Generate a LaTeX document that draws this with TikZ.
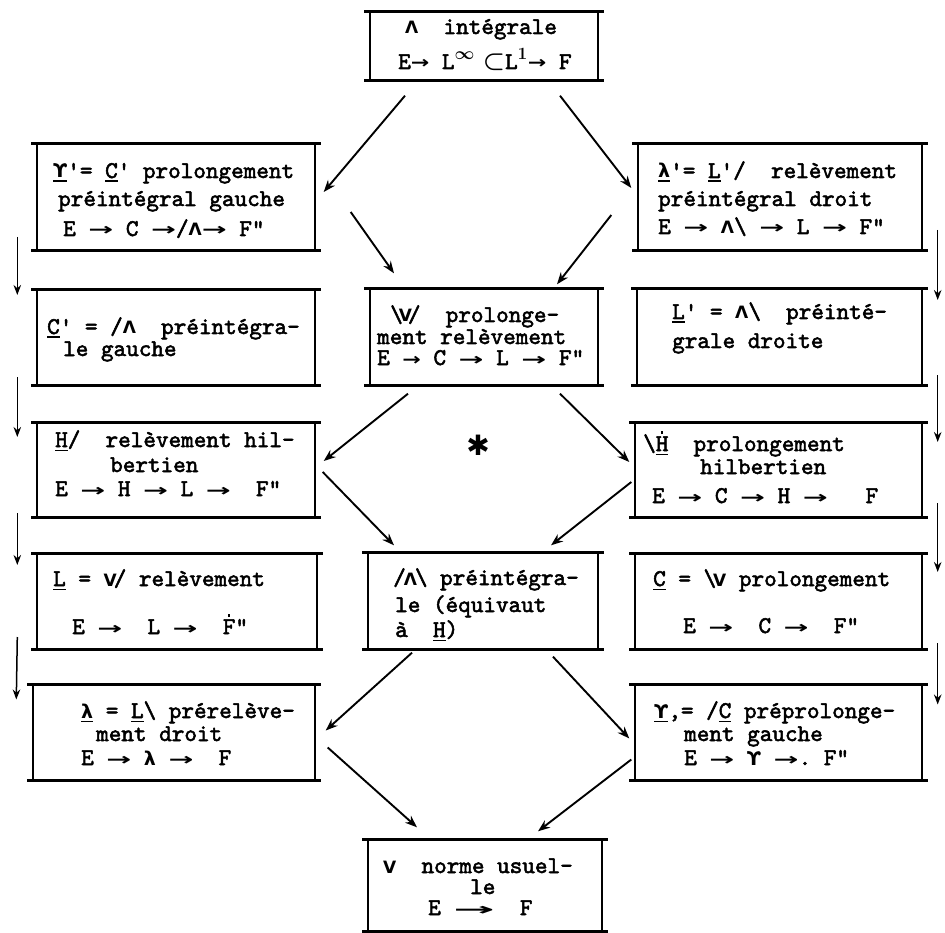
\documentclass[tikz,border=0pt]{standalone}
\usepackage{fontspec}
\usepackage{graphicx}
\newfontfamily\sym{DejaVu Sans}
\newfontfamily\tw{lmmono10-regular}[Extension=.otf, FakeBold=2.2]
\usetikzlibrary{arrows.meta}
\newcommand\AND{{\sym\bfseries\fontsize{17}{17}\selectfont Λ}}
\newcommand\OR{{\sym\bfseries\fontsize{17}{17}\selectfont V}}
\newcommand\UPS{{\sym\bfseries\fontsize{19}{19}\selectfont ϒ}}
\newcommand\LAM{{\sym\bfseries\fontsize{19}{19}\selectfont λ}}
\newcommand\arr{{\sym\bfseries\fontsize{17}{17}\selectfont\scalebox{1.75}[1]{→}}}
\newcommand\sarr{{\sym\bfseries\fontsize{17}{17}\selectfont\scalebox{1.3}[1]{→}}}
\newcommand\larr{{\sym\bfseries\fontsize{17}{17}\selectfont\scalebox{2.9}[1]{→}}}
\newcommand\bsl{\textbackslash}
\newsavebox\ulbox
\newsavebox\dtbox
\newcommand\ulx[1]{\sbox\ulbox{#1}\rlap{\rule[-4pt]{\wd\ulbox}{1.5pt}}\usebox\ulbox}
\newcommand\dotted[1]{\sbox\dtbox{#1}\rlap{\makebox[\wd\dtbox]{\rule[17pt]{2.6pt}{2.6pt}}}\usebox\dtbox}
\tikzset{
  box/.style={draw, line width=1.4pt, inner sep=0pt},
  hline/.style={line width=2.8pt},
  txt/.style={anchor=base west, inner sep=0pt, font=\tw\fontsize{24}{26}\selectfont},
  conn/.style={-{Stealth[length=12pt,width=9pt]}, line width=1.9pt},
  side/.style={-{Stealth[length=10pt,width=7.5pt]}, line width=1.5pt},
}
\begin{document}
\begin{tikzpicture}[x=1pt,y=-1pt]
\fill[white] (0,0) rectangle (945,933);
\useasboundingbox (0,0) rectangle (945,933);
% boxes
\node[box, minimum width=228pt, minimum height=68pt] (top) at (484,46) {};
\node[box, minimum width=278pt, minimum height=106pt] (r1l) at (176,197) {};
\node[box, minimum width=284pt, minimum height=106pt] (r1r) at (780,197) {};
\node[box, minimum width=278pt, minimum height=95pt] (r2l) at (176,337.5) {};
\node[box, minimum width=228pt, minimum height=96pt] (r2c) at (484,337) {};
\node[box, minimum width=285pt, minimum height=96pt] (r2r) at (779.5,337) {};
\node[box, minimum width=278pt, minimum height=94pt] (r3l) at (176,470) {};
\node[box, minimum width=287pt, minimum height=94pt] (r3r) at (778.5,470) {};
\node[box, minimum width=280pt, minimum height=95pt] (r4l) at (177,601.5) {};
\node[box, minimum width=230pt, minimum height=96pt] (r4c) at (483,601) {};
\node[box, minimum width=287pt, minimum height=95pt] (r4r) at (778.5,601.5) {};
\node[box, minimum width=282pt, minimum height=95pt] (r5l) at (174,732.5) {};
\node[box, minimum width=287pt, minimum height=95pt] (r5r) at (778.5,732.5) {};
\node[box, minimum width=234pt, minimum height=91pt] (bot) at (485,885.5) {};
\foreach \n in {top,r1l,r1r,r2l,r2c,r2r,r3l,r3r,r4l,r4c,r4r,r5l,r5r,bot}{
  \draw[hline] ([xshift=-5pt]\n.north west) -- ([xshift=5pt]\n.north east);
  \draw[hline] ([xshift=-5pt]\n.south west) -- ([xshift=5pt]\n.south east);
}
% texts
\node[txt] (ta) at (405,34) {\AND~~intégrale};
\node[txt] (tb) at (398,69) {E\sarr~L{\boldmath$^{\infty}\subset$}L{\boldmath$^{1}$}\sarr~F};
\node[txt] (a1) at (53,178) {\ulx{\UPS}'= \ulx{C}' prolongement};
\node[txt] (a2) at (58,206) {préintégral gauche};
\node[txt] (a3) at (63,236) {E \arr~C \arr/\AND\arr~F"};
\node[txt] (b1) at (658,178) {\ulx{\LAM}'= \ulx{L}'/~~relèvement};
\node[txt] (b2) at (658,206) {préintégral droit};
\node[txt] (b3) at (658,234) {E \arr~\AND\bsl~\arr~L \arr~F"};
\node[txt] (c1) at (47,334) {\ulx{C}' = /\AND~~préintégra-};
\node[txt] (c2) at (63,356) {le gauche};
\node[txt] (d1) at (390,322) {\bsl\kern-4pt\OR\kern-4pt/~~prolonge-};
\node[txt] (d2) at (377,344) {ment relèvement};
\node[txt] (d3) at (377,365) {E \sarr~C \arr~L \arr~F"};
\node[txt] (e1) at (672,319) {\ulx{L}' = \AND\bsl~~préinté-};
\node[txt] (e2) at (672,348) {grale droite};
\node[txt] (f1) at (55,447) {\ulx{H}/~~relèvement hil-};
\node[txt] (f2) at (110,472) {bertien};
\node[txt] (f3) at (55,496) {E \arr~H \arr~L \arr~~F"};
\node[txt] (g1) at (643,451) {\bsl\ulx{\dotted{H}}~~prolongement};
\node[txt] (g2) at (700,474) {hilbertien};
\node[txt] (g3) at (652,503) {E \arr~C \arr~H \arr~~~F};
\node[txt] (h1) at (53,586) {\ulx{L} = \OR\kern-3pt/ relèvement};
\node[txt] (h2) at (72,634) {E \arr~~L \arr~~\dotted{F}"};
\node[txt] (i1) at (393,585) {/\kern-2pt\AND\kern-2pt\bsl~préintégra-};
\node[txt] (i2) at (395,612) {le (équivaut};
\node[txt] (i3) at (395,637) {à~~\ulx{H})};
\node[txt] (j1) at (653,586) {\ulx{C} = \bsl\kern-3pt\OR~prolongement};
\node[txt] (j2) at (683,633) {E \arr~~C \arr~~F"};
\node[txt] (k1) at (81,718) {\ulx{\LAM} = \ulx{L}\bsl~prérelève-};
\node[txt] (k2) at (96,741) {ment droit};
\node[txt] (k3) at (81,765) {E \arr~\LAM~\arr~~F};
\node[txt] (l1) at (654,718) {\ulx{\UPS},= /\ulx{C} préprolonge-};
\node[txt] (l2) at (684,741) {ment gauche};
\node[txt] (l3) at (684,765) {E \arr~\UPS~\arr.~F"};
\node[txt] (m1) at (383,873) {\OR~~norme usuel-};
\node[txt] (m2) at (470,894) {le};
\node[txt] (m3) at (428,915) {E \larr~~F};
\node[font=\sym\bfseries\fontsize{28}{28}\selectfont] (star) at (478,445) {✱};
% diagonal connectors
\draw[conn] ([shift={(-79,15)}]top.south) -- ([shift={(8,-5)}]r1l.east);
\draw[conn] ([shift={(76,15)}]top.south) -- ([shift={(-6,-9)}]r1r.west);
\draw[conn] ([shift={(35,15)}]r1l.east) -- ([shift={(-90,-15)}]r2c.north);
\draw[conn] ([shift={(-26,18)}]r1r.west) -- ([shift={(73,-4)}]r2c.north);
\draw[conn] ([shift={(-76,8)}]r2c.south) -- ([shift={(8,-9)}]r3l.east);
\draw[conn] ([shift={(76,8)}]r2c.south) -- ([shift={(-5,-8)}]r3r.west);
\draw[conn] ([shift={(7,2)}]r3l.east) -- ([shift={(-89,-7)}]r4c.north);
\draw[conn] ([shift={(-3,12)}]r3r.west) -- ([shift={(68,-7)}]r4c.north);
\draw[conn] ([shift={(-71,3)}]r4c.south) -- ([shift={(10,-2)}]r5l.east);
\draw[conn] ([shift={(70,7)}]r4c.south) -- ([shift={(-5,6)}]r5r.west);
\draw[conn] ([shift={(12,15)}]r5l.east) -- ([shift={(-68,-12)}]bot.north);
\draw[conn] ([shift={(-3,27)}]r5r.west) -- ([shift={(53,-8)}]bot.north);
% side arrows
\draw[side] ([shift={(-19,40)}]r1l.west) -- ([shift={(-19,-42.5)}]r2l.west);
\draw[side] ([shift={(-19,39.5)}]r2l.west) -- ([shift={(-19,-33)}]r3l.west);
\draw[side] ([shift={(-19,43)}]r3l.west) -- ([shift={(-19,-36.5)}]r4l.west);
\draw[side] ([shift={(-19,35.5)}]r4l.west) -- ([shift={(-16,-33)}]r5l.west);
\draw[side] ([shift={(15,33)}]r1r.east) -- ([shift={(15,-37)}]r2r.east);
\draw[side] ([shift={(15,38)}]r2r.east) -- ([shift={(15,-28)}]r3r.east);
\draw[side] ([shift={(15,33)}]r3r.east) -- ([shift={(15,-29.5)}]r4r.east);
\draw[side] ([shift={(15,41.5)}]r4r.east) -- ([shift={(15,-28)}]r5r.east);
\end{tikzpicture}
\end{document}
